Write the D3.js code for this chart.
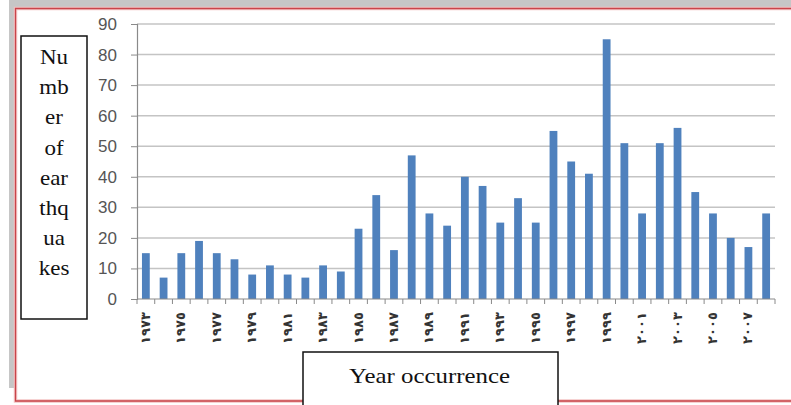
<!DOCTYPE html>
<html>
<head>
<meta charset="utf-8">
<script src="https://cdn.jsdelivr.net/npm/d3@7"></script>
<style>
  html, body { margin: 0; padding: 0; background: #fff; }
  svg { display: block; }
</style>
</head>
<body>
<svg id="chart" width="791" height="405"></svg>
<script>
// Earthquake counts per year
const years = [1973, 1974, 1975, 1976, 1977, 1978, 1979, 1980, 1981, 1982, 1983, 1984,
               1985, 1986, 1987, 1988, 1989, 1990, 1991, 1992, 1993, 1994, 1995, 1996,
               1997, 1998, 1999, 2000, 2001, 2002, 2003, 2004, 2005, 2006, 2007, 2008];
const counts = [15, 7, 15, 19, 15, 13, 8, 11, 8, 7, 11, 9,
                23, 34, 16, 47, 28, 24, 40, 37, 25, 33, 25, 55,
                45, 41, 85, 51, 28, 51, 56, 35, 28, 20, 17, 28];

// Labelled years on the category axis (Arabic-Indic digits)
const labelYears = [1973, 1975, 1977, 1979, 1981, 1983, 1985, 1987, 1989,
                    1991, 1993, 1995, 1997, 1999, 2001, 2003, 2005, 2007];
const labelTexts = ["١٩٧٣", "١٩٧٥", "١٩٧٧", "١٩٧٩", "١٩٨١", "١٩٨٣", "١٩٨٥", "١٩٨٧", "١٩٨٩",
                    "١٩٩١", "١٩٩٣", "١٩٩٥", "١٩٩٧", "١٩٩٩", "٢٠٠١", "٢٠٠٣", "٢٠٠٥", "٢٠٠٧"];

const yTicks = [0, 10, 20, 30, 40, 50, 60, 70, 80, 90];
const yTitleLines = ["Nu", "mb", "er", "of", "ear", "thq", "ua", "kes"];
const xTitle = "Year occurrence";

const svg = d3.select("#chart");

// Page frame: grey shadow strip and red outline
svg.append("rect").attr("x", 9).attr("y", 0).attr("width", 782).attr("height", 7).attr("fill", "#c6c6c6");
svg.append("rect").attr("x", 9).attr("y", 0).attr("width", 6).attr("height", 388).attr("fill", "#c6c6c6");
const frame = svg.append("g").attr("fill", "none");
frame.append("path")
  .attr("d", "M796,8.5 H15.5 V401 H796")
  .attr("stroke", "#f3c4c4").attr("stroke-width", 3.5);
frame.append("path")
  .attr("d", "M796,8.5 H15.5 V401 H796")
  .attr("stroke", "#c8444a").attr("stroke-width", 1.3);

const plot = { left: 137, right: 775, top: 24, bottom: 299 };

const x = d3.scaleBand()
  .domain(years)
  .range([plot.left, plot.right])
  .paddingInner(0.56)
  .paddingOuter(0.28);

const xb = d3.scaleBand().domain(years).range([plot.left, plot.right]);

const y = d3.scaleLinear().domain([0, 90]).range([plot.bottom, plot.top]);

// Horizontal gridlines
svg.append("g")
  .selectAll("line")
  .data(yTicks.filter(d => d > 0))
  .join("line")
  .attr("x1", plot.left).attr("x2", plot.right)
  .attr("y1", d => y(d)).attr("y2", d => y(d))
  .attr("stroke", "#c4c4c4").attr("stroke-width", 1.5);

// Y axis
const yAxis = svg.append("g")
  .attr("transform", `translate(${plot.left},0)`)
  .call(d3.axisLeft(y).tickValues(yTicks).tickSize(6).tickPadding(14));
yAxis.select(".domain").attr("stroke", "#8a8a8a").attr("stroke-width", 1.2);
yAxis.selectAll(".tick line").attr("stroke", "#8a8a8a");
yAxis.selectAll(".tick text")
  .attr("font-family", "Liberation Sans, Arial, sans-serif")
  .attr("font-size", 17)
  .attr("fill", "#555");

// Bars
svg.append("g")
  .selectAll("rect")
  .data(years.map((yr, i) => ({ yr, v: counts[i] })))
  .join("rect")
  .attr("x", d => x(d.yr))
  .attr("width", x.bandwidth())
  .attr("y", d => y(d.v))
  .attr("height", d => y(0) - y(d.v))
  .attr("fill", "#4f81bd");

// X axis line with category boundary ticks
const xAxisG = svg.append("g");
xAxisG.append("line")
  .attr("x1", plot.left).attr("x2", plot.right)
  .attr("y1", plot.bottom).attr("y2", plot.bottom)
  .attr("stroke", "#8a8a8a").attr("stroke-width", 1.2);
xAxisG.selectAll("line.tk")
  .data(years.concat(["end"]))
  .join("line")
  .attr("class", "tk")
  .attr("x1", d => d === "end" ? plot.right : xb(d))
  .attr("x2", d => d === "end" ? plot.right : xb(d))
  .attr("y1", plot.bottom).attr("y2", plot.bottom + 5)
  .attr("stroke", "#8a8a8a");

// Rotated year labels
svg.append("g")
  .selectAll("text")
  .data(labelYears.map((yr, i) => ({ yr, t: labelTexts[i] })))
  .join("text")
  .attr("transform", d => `translate(${xb(d.yr) + xb.bandwidth() / 2 + 4},312) rotate(-90)`)
  .attr("text-anchor", "end")
  .attr("font-family", "DejaVu Sans, sans-serif")
  .attr("font-size", 13)
  .attr("font-weight", "bold")
  .attr("textLength", 32)
  .attr("lengthAdjust", "spacing")
  .attr("fill", "#333")
  .text(d => d.t);

// Y title box
svg.append("rect")
  .attr("x", 21).attr("y", 36).attr("width", 66).attr("height", 283)
  .attr("fill", "#fff").attr("stroke", "#111").attr("stroke-width", 1.5);
svg.append("g")
  .selectAll("text")
  .data(yTitleLines)
  .join("text")
  .attr("transform", (d, i) => `translate(54,${64 + i * 30.2}) scale(1.15,1)`)
  .attr("text-anchor", "middle")
  .attr("font-family", "Liberation Serif, Times New Roman, serif")
  .attr("font-size", 20)
  .attr("fill", "#111")
  .text(d => d);

// X title box
svg.append("rect")
  .attr("x", 303).attr("y", 352).attr("width", 255).attr("height", 60)
  .attr("fill", "#fff").attr("stroke", "#111").attr("stroke-width", 1.5);
svg.append("text")
  .attr("x", 349).attr("y", 383)
  .attr("font-family", "Liberation Serif, Times New Roman, serif")
  .attr("font-size", 22)
  .attr("textLength", 161)
  .attr("lengthAdjust", "spacingAndGlyphs")
  .attr("fill", "#111")
  .text(xTitle);
</script>
</body>
</html>
